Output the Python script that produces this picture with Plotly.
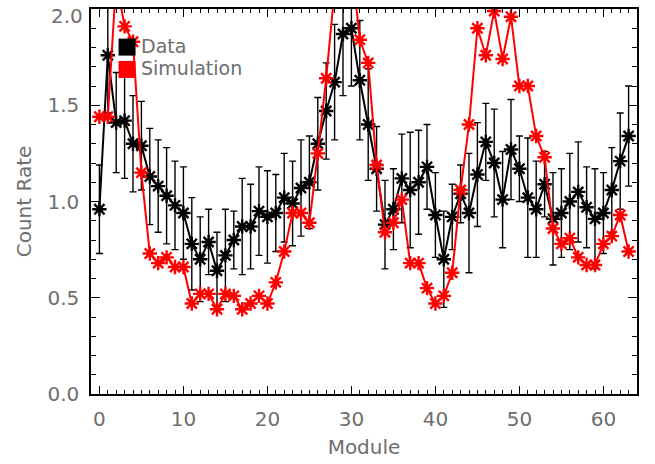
import plotly.graph_objects as go

# Per-module count rates
modules = list(range(64))

data_rate = [0.96, 1.76, 1.41, 1.42, 1.30, 1.29, 1.13, 1.08, 1.03, 0.98,
             0.94, 0.78, 0.70, 0.79, 0.64, 0.72, 0.80, 0.87, 0.87, 0.95,
             0.92, 0.94, 1.02, 0.99, 1.07, 1.10, 1.30, 1.47, 1.62, 1.87,
             1.90, 1.63, 1.40, 1.17, 0.88, 0.96, 1.12, 1.06, 1.10, 1.18,
             0.93, 0.70, 0.92, 1.04, 0.94, 1.14, 1.31, 1.20, 1.01, 1.27,
             1.17, 1.02, 0.96, 1.09, 0.91, 0.94, 1.00, 1.05, 0.97, 0.91,
             0.94, 1.06, 1.21, 1.34]

data_err = [0.23, 0.30, 0.26, 0.30, 0.25, 0.23, 0.25, 0.24, 0.25, 0.23,
            0.24, 0.24, 0.22, 0.17, 0.20, 0.24, 0.15, 0.25, 0.22, 0.23,
            0.24, 0.20, 0.23, 0.22, 0.25, 0.24, 0.24, 0.25, 0.30, 0.32,
            0.30, 0.31, 0.29, 0.22, 0.23, 0.21, 0.23, 0.30, 0.27, 0.22,
            0.22, 0.25, 0.17, 0.15, 0.31, 0.27, 0.20, 0.28, 0.25, 0.26,
            0.17, 0.31, 0.25, 0.17, 0.24, 0.23, 0.25, 0.26, 0.21, 0.26,
            0.21, 0.22, 0.25, 0.26]

sim_rate = [1.44, 1.44, 2.15, 1.91, 1.83, 1.15, 0.73, 0.68, 0.71, 0.66,
            0.66, 0.47, 0.52, 0.52, 0.44, 0.52, 0.51, 0.44, 0.47, 0.51,
            0.47, 0.58, 0.74, 0.94, 0.94, 0.89, 1.25, 1.64, 2.10, 2.20,
            2.25, 1.84, 1.72, 1.19, 0.84, 0.89, 1.01, 0.68, 0.68, 0.55,
            0.47, 0.51, 0.63, 1.06, 1.40, 1.90, 1.76, 1.99, 1.74, 1.96,
            1.60, 1.60, 1.34, 1.23, 0.86, 0.78, 0.81, 0.71, 0.67, 0.67,
            0.78, 0.82, 0.93, 0.74]

x_ticks = [0, 10, 20, 30, 40, 50, 60]
y_ticks = [0.0, 0.5, 1.0, 1.5, 2.0]

legend_names = ["Data", "Simulation"]
legend_colors = ["black", "#ff0000"]

TEXT = "#6e6e6e"
FONT = "DejaVu Sans"

fig = go.Figure()

fig.add_trace(go.Scatter(
    x=modules, y=data_rate, mode="lines+markers", showlegend=False,
    line=dict(color="black", width=2),
    marker=dict(symbol="asterisk-open", size=12, color="black",
                line=dict(color="black", width=2.4)),
    error_y=dict(type="data", array=data_err, visible=True,
                 color="black", thickness=1.4, width=3.5),
))

fig.add_trace(go.Scatter(
    x=modules, y=sim_rate, mode="lines+markers", showlegend=False,
    line=dict(color="#ff0000", width=2),
    marker=dict(symbol="asterisk-open", size=12, color="#ff0000",
                line=dict(color="#ff0000", width=2.4)),
))

# legend: filled squares with labels in the upper-left corner
for i, (name, col) in enumerate(zip(legend_names, legend_colors)):
    yc = 0.901 - i * 0.058
    fig.add_shape(type="rect", xref="paper", yref="paper",
                  xsizemode="pixel", ysizemode="pixel",
                  xanchor=0.066, yanchor=yc,
                  x0=-8.5, x1=8.5, y0=-8.5, y1=8.5,
                  fillcolor=col, line=dict(width=0))
    fig.add_annotation(x=0.090, y=yc + 0.003, xref="paper", yref="paper",
                       xanchor="left", yanchor="middle", showarrow=False,
                       text=name, borderpad=0,
                       font=dict(family=FONT, size=19, color=TEXT))

# y tick labels; the topmost one is set just below its tick so it stays
# inside the page
y_labels = [f"{v:.1f}" for v in y_ticks]
y_ticktext = y_labels[:-1] + [""]
fig.add_annotation(x=0, y=y_ticks[-1], xref="paper", yref="y",
                   xanchor="right", yanchor="middle", showarrow=False,
                   text=y_labels[-1], xshift=-7, yshift=-7, borderpad=0,
                   font=dict(family=FONT, size=20, color=TEXT))

axis_common = dict(
    showline=True, linecolor="black", linewidth=1.5, mirror="allticks",
    ticks="inside", tickcolor="black", tickwidth=1.2,
    showgrid=False, zeroline=False,
    tickfont=dict(family=FONT, size=20, color=TEXT),
)

fig.update_xaxes(
    range=[-1, 64], tickvals=x_ticks, ticklen=8,
    minor=dict(ticks="inside", dtick=1, ticklen=4, tickcolor="black",
               tickwidth=1.2, showgrid=False),
    title=dict(text="Module", font=dict(family=FONT, size=20, color=TEXT),
               standoff=10),
    ticklabelstandoff=6,
    **axis_common,
)
fig.update_yaxes(
    range=[0, 2.0001], tickvals=y_ticks, ticktext=y_ticktext, ticklen=9,
    minor=dict(ticks="inside", dtick=0.1, ticklen=5, tickcolor="black",
               tickwidth=1.2, showgrid=False),
    title=dict(text="Count Rate", font=dict(family=FONT, size=20, color=TEXT),
               standoff=10),
    ticklabelstandoff=6,
    **axis_common,
)

fig.update_layout(
    width=655, height=464,
    margin=dict(l=91, r=18, t=9, b=70, autoexpand=False),
    paper_bgcolor="white", plot_bgcolor="white",
    font=dict(family=FONT, size=20, color=TEXT),
    showlegend=False,
)

fig.write_html("out.html")
